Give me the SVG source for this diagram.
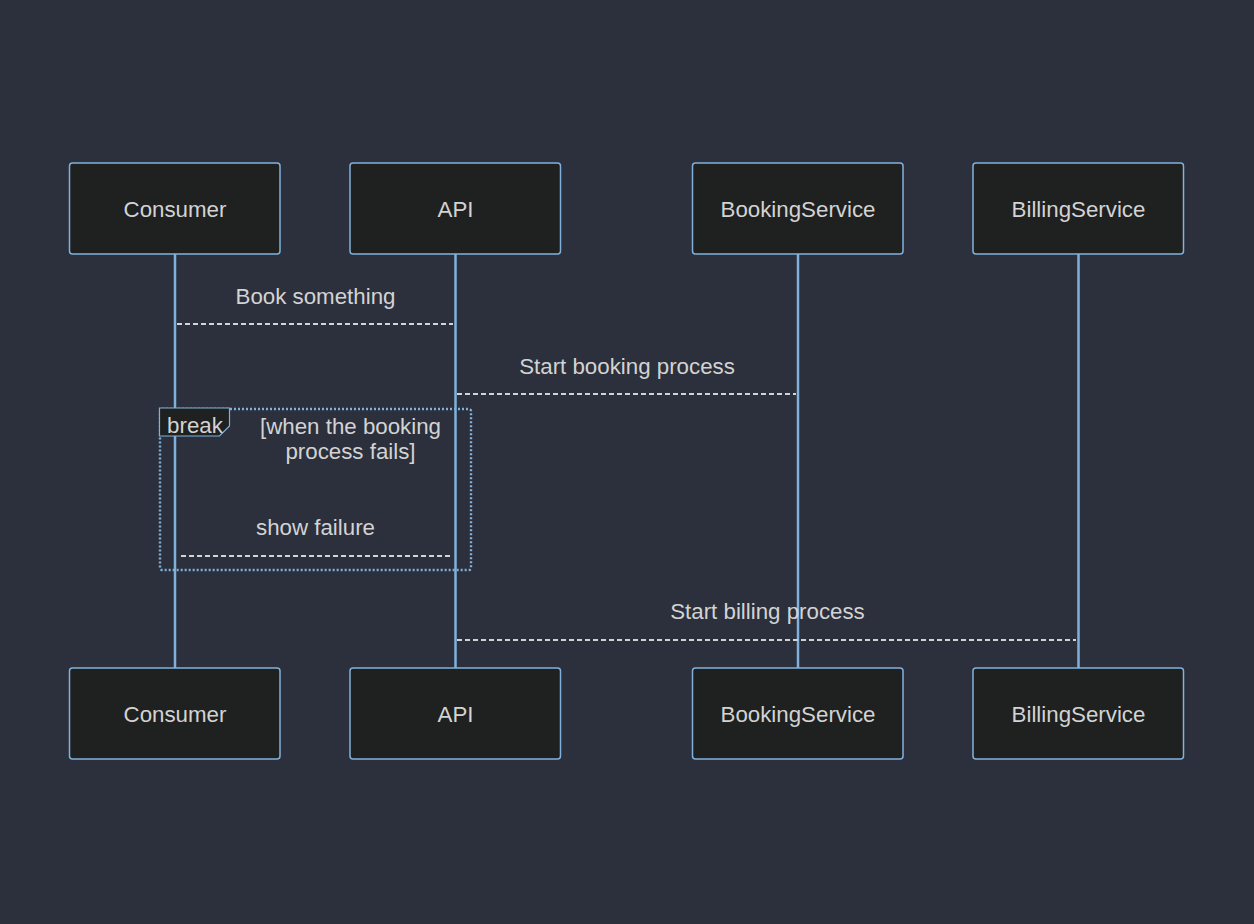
<svg xmlns="http://www.w3.org/2000/svg" width="1254" height="924" viewBox="0 0 1254 924">
<style>
.actor{fill:#1f2020;stroke:#81b1db;stroke-width:1.5}
.t{font-family:"Liberation Sans",Arial,sans-serif;font-size:22.3px;fill:#d3d3d3;text-anchor:middle;dominant-baseline:central}
.life{stroke:#81b1db;stroke-width:2.5}
.msg{stroke:#d3d3d3;stroke-width:2;stroke-dasharray:5,3;fill:none}
.loop{fill:none;stroke:#81b1db;stroke-width:2.4;stroke-dasharray:2,2}
</style>
<rect width="1254" height="924" fill="#2b303c"/>
<g id="lifelines">
<line class="life" x1="175" y1="254" x2="175" y2="668"/>
<line class="life" x1="455.5" y1="254" x2="455.5" y2="668"/>
<line class="life" x1="798" y1="254" x2="798" y2="668"/>
<line class="life" x1="1078.5" y1="254" x2="1078.5" y2="668"/>
</g>
<g id="actor-consumer-top"><rect class="actor" x="69.5" y="163" width="210.5" height="91" rx="3"/><text class="t" x="175" y="209">Consumer</text></g>
<g id="actor-api-top"><rect class="actor" x="350" y="163" width="210.5" height="91" rx="3"/><text class="t" x="455.5" y="209">API</text></g>
<g id="actor-booking-top"><rect class="actor" x="692.5" y="163" width="210.5" height="91" rx="3"/><text class="t" x="798" y="209">BookingService</text></g>
<g id="actor-billing-top"><rect class="actor" x="973" y="163" width="210.5" height="91" rx="3"/><text class="t" x="1078.5" y="209">BillingService</text></g>
<g id="actor-consumer-bottom"><rect class="actor" x="69.5" y="668" width="210.5" height="91" rx="3"/><text class="t" x="175" y="714">Consumer</text></g>
<g id="actor-api-bottom"><rect class="actor" x="350" y="668" width="210.5" height="91" rx="3"/><text class="t" x="455.5" y="714">API</text></g>
<g id="actor-booking-bottom"><rect class="actor" x="692.5" y="668" width="210.5" height="91" rx="3"/><text class="t" x="798" y="714">BookingService</text></g>
<g id="actor-billing-bottom"><rect class="actor" x="973" y="668" width="210.5" height="91" rx="3"/><text class="t" x="1078.5" y="714">BillingService</text></g>
<g id="break-frame">
<rect class="loop" x="160" y="409" width="311" height="161" rx="2"/>
<polygon points="159.5,408 229.5,408 229.5,426 219.5,436 159.5,436" fill="#1f2020" stroke="#81b1db" stroke-width="1.2"/>
<text class="t" x="195" y="425">break</text>
<text class="t" x="350.5" y="426">[when the booking</text>
<text class="t" x="350.5" y="451">process fails]</text>
</g>
<g id="messages">
<line class="msg" x1="177" y1="324" x2="453" y2="324"/>
<text class="t" x="315.5" y="296">Book something</text>
<line class="msg" x1="457" y1="394" x2="796" y2="394"/>
<text class="t" x="627" y="366">Start booking process</text>
<line class="msg" x1="181" y1="556" x2="453" y2="556"/>
<text class="t" x="315.5" y="527">show failure</text>
<line class="msg" x1="457" y1="640" x2="1076" y2="640"/>
<text class="t" x="767.5" y="611">Start billing process</text>
</g>
</svg>
